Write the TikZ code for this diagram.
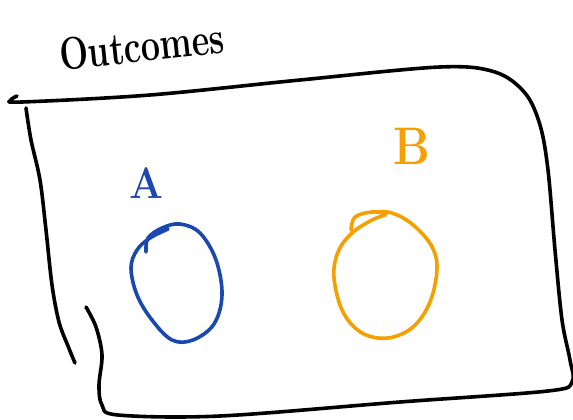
\documentclass[tikz,border=0pt]{standalone}
\definecolor{penblue}{HTML}{1A47B0}
\definecolor{penorange}{HTML}{F5A000}
\tikzset{
  pen/.style={line width=3.6pt, line cap=round, line join=round},
  label/.style={inner sep=0pt, anchor=center, font=\bfseries}
}
\begin{document}
\begin{tikzpicture}[x=1pt,y=-1pt]
\useasboundingbox (0,0) rectangle (573,420);
% frame
\draw[pen] plot[smooth, tension=0.55] coordinates {(17,96) (11,100) (22,102) (150,95) (300,80) (440,67) (495,72) (525,93) (540,125) (548,170) (555,250) (562,320) (570,360) (572,382) (548,391) (400,402) (220,416) (118,415) (102,405) (99,385) (102,355) (96,327) (86,307)};
\draw[pen] plot[smooth, tension=0.55] coordinates {(26,108) (31,140) (40,180) (46,230) (52,285) (59,322) (68,346) (75,363)};
% title
\node[label, rotate=6, yscale=1.35] (title) at (142,46) {\fontsize{34}{36}\selectfont Outcomes};
% A
\node[label, text=penblue, yscale=1.1] (la) at (146,183) {\fontsize{40}{42}\selectfont A};
\draw[pen, penblue] plot[smooth, tension=0.6] coordinates {(146,252) (148,238) (162,228) (180,224) (200,233) (216,260) (222,295) (214,324) (193,340) (172,340) (152,320) (137,295) (131,268) (137,250) (150,238) (168,229)} node[coordinate] (ca) {};
% B
\node[label, text=penorange, yscale=1.15] (lb) at (412,146) {\fontsize{46}{48}\selectfont B};
\draw[pen, penorange] plot[smooth, tension=0.6] coordinates {(351,230) (355,217) (372,212) (386,214) (372,220) (352,233) (338,252) (334,278) (343,312) (362,333) (388,338) (413,327) (430,302) (437,268) (431,245) (412,224) (392,213) (376,212)} node[coordinate] (cb) {};
\end{tikzpicture}
\end{document}
